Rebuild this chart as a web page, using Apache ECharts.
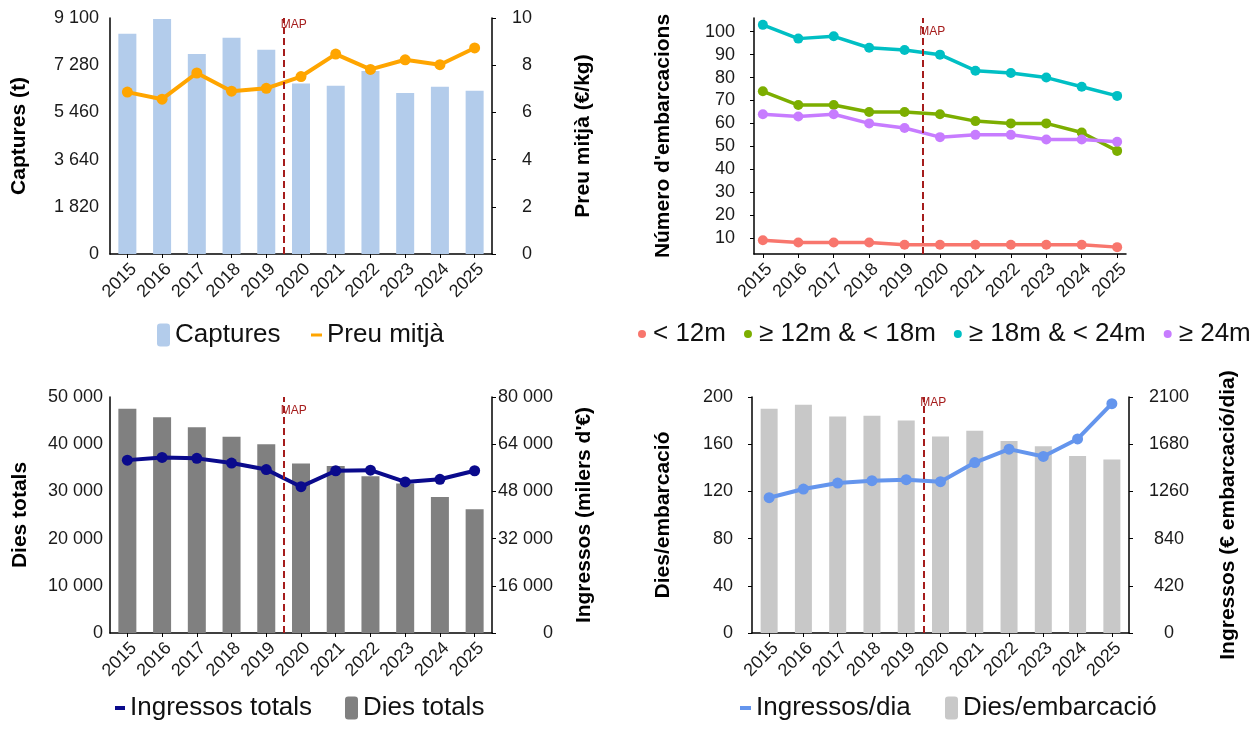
<!DOCTYPE html>
<html><head><meta charset="utf-8">
<script src="https://cdn.jsdelivr.net/npm/echarts@6/dist/echarts.min.js"></script>
<style>html,body{margin:0;padding:0;background:#fff}#c{width:1259px;height:731px}</style>
</head><body><div id="c"></div>
<script>
// ---------- data ----------
const years = [2015, 2016, 2017, 2018, 2019, 2020, 2021, 2022, 2023, 2024, 2025];
const mapYear = 2019.5;

const captures = [8495, 9061, 7710, 8341, 7877, 6577, 6487, 7053, 6204, 6449, 6294];
const preuMitja = [6.86, 6.56, 7.67, 6.90, 7.02, 7.52, 8.47, 7.82, 8.23, 8.02, 8.73];

const vessLt12 = [9, 8, 8, 8, 7, 7, 7, 7, 7, 7, 6];
const vess12to18 = [74, 68, 68, 65, 65, 64, 61, 60, 60, 56, 48];
const vess18to24 = [103, 97, 98, 93, 92, 90, 83, 82, 80, 76, 72];
const vessGe24 = [64, 63, 64, 60, 58, 54, 55, 55, 53, 53, 52];

const diesTotals = [47500, 45700, 43600, 41600, 40000, 35900, 35400, 33200, 31700, 28800, 26200];
const ingressosTotals = [58600, 59500, 59200, 57600, 55400, 49600, 55000, 55200, 51200, 52100, 55000];

const diesEmbarcacio = [190, 193.5, 183.4, 184.2, 180, 166.5, 171.5, 162.8, 158.3, 149.9, 147];
const ingressosDia = [1204, 1281, 1334, 1355, 1364, 1346, 1517, 1636, 1571, 1727, 2041];

const capturesTicks = [0, 1820, 3640, 5460, 7280, 9100];
const preuTicks = [0, 2, 4, 6, 8, 10];
const vesselTicks = [10, 20, 30, 40, 50, 60, 70, 80, 90, 100];
const vesselRange = [3, 106];
const diesTotTicks = [0, 10000, 20000, 30000, 40000, 50000];
const ingTotTicks = [0, 16000, 32000, 48000, 64000, 80000];
const diesEmbTicks = [0, 40, 80, 120, 160, 200];
const ingDiaTicks = [0, 420, 840, 1260, 1680, 2100];

const sizeClasses = ['< 12m', '≥ 12m & < 18m', '≥ 18m & < 24m', '≥ 24m'];

// ---------- helpers ----------
const FONT = "'Liberation Sans', Arial, sans-serif";
const MAPC = '#A51C1C';
const pair = arr => years.map((y, i) => [y, arr[i]]);
const sp = v => String(v).replace(/\B(?=(\d{3})+(?!\d))/g, ' ');
const last = a => a[a.length - 1];

function xAx(grid, min, max) {
  return {
    type: 'value', gridIndex: grid, min: min, max: max,
    axisLine: { show: true, onZero: false, lineStyle: { color: '#000', width: 1.5 } },
    axisTick: { show: true, length: 4, customValues: years, lineStyle: { color: '#000' } },
    axisLabel: { customValues: years, rotate: 45, fontSize: 18, fontFamily: FONT, color: '#1a1a1a', margin: 6,
      verticalAlign: 'top', formatter: v => String(v) },
    splitLine: { show: false }
  };
}
function yAx(grid, ticks, opts) {
  return {
    type: 'value', gridIndex: grid, min: opts.min !== undefined ? opts.min : ticks[0], max: opts.max !== undefined ? opts.max : last(ticks),
    position: opts.pos,
    name: opts.name, nameLocation: 'middle', nameGap: opts.gap,
    nameTextStyle: { fontSize: 21, fontWeight: 'bold', fontFamily: FONT, color: '#000' },
    axisLine: { show: true, onZero: false, lineStyle: { color: '#000', width: 1.5 } },
    axisTick: { show: opts.tick, length: 4, customValues: ticks, lineStyle: { color: '#000' } },
    axisLabel: { customValues: ticks, fontSize: 18, fontFamily: FONT, color: '#1a1a1a', margin: opts.margin, align: opts.align, formatter: opts.fmt || (v => String(v)) },
    splitLine: { show: false }
  };
}
function mapMarks(yTop, dy) {
  return {
    markLine: { silent: true, symbol: 'none', label: { show: false },
      lineStyle: { color: MAPC, type: [7, 4], width: 2 }, data: [{ xAxis: mapYear }] },
    markPoint: { silent: true, data: [{ coord: [mapYear, yTop], symbol: 'circle', symbolSize: 0,
      label: { show: true, formatter: 'MAP', position: 'right', distance: 0, offset: [-3, dy], color: MAPC, fontSize: 12, fontFamily: FONT } }] }
  };
}
function lineSeries(name, data, xi, yi, color, size, width, extra) {
  return Object.assign({
    type: 'line', name: name, xAxisIndex: xi, yAxisIndex: yi, data: pair(data),
    symbol: 'circle', symbolSize: size, showSymbol: true,
    lineStyle: { color: color, width: width }, itemStyle: { color: color }, z: 3
  }, extra || {});
}

const chart = echarts.init(document.getElementById('c'), null, { renderer: 'canvas' });
const legendText = { fontSize: 26, fontFamily: FONT, color: '#111' };

chart.setOption({
  animation: false,
  backgroundColor: '#fff',
  textStyle: { fontFamily: FONT },
  grid: [
    { left: 110, top: 18, width: 382, height: 236 },
    { left: 754, top: 18, width: 372, height: 236 },
    { left: 110, top: 397, width: 382, height: 236 },
    { left: 752, top: 397, width: 377, height: 236 }
  ],
  xAxis: [
    xAx(0, 2014.5, 2025.5),
    xAx(1, 2014.75, 2025.25),
    xAx(2, 2014.5, 2025.5),
    xAx(3, 2014.5, 2025.5)
  ],
  yAxis: [
    yAx(0, capturesTicks, { pos: 'left', name: 'Captures (t)', gap: 80, tick: false, margin: 11, fmt: sp }),
    yAx(0, preuTicks, { pos: 'right', name: 'Preu mitjà (€/kg)', gap: 81, tick: true, margin: 40, align: 'right' }),
    yAx(1, vesselTicks, { pos: 'left', name: "Número d'embarcacions", gap: 80, tick: true, margin: 19, min: vesselRange[0], max: vesselRange[1] }),
    yAx(2, diesTotTicks, { pos: 'left', name: 'Dies totals', gap: 79, tick: false, margin: 7, fmt: sp }),
    yAx(2, ingTotTicks, { pos: 'right', name: "Ingressos (milers d'€)", gap: 82, tick: true, margin: 61, align: 'right', fmt: sp }),
    yAx(3, diesEmbTicks, { pos: 'left', name: 'Dies/embarcació', gap: 78, tick: true, margin: 19 }),
    yAx(3, ingDiaTicks, { pos: 'right', name: 'Ingressos (€ embarcació/dia)', gap: 89, tick: true, margin: 40, align: 'center' })
  ],
  legend: [
    { left: 157, top: 322, padding: 0, itemWidth: 13, itemHeight: 23, textStyle: legendText, data: ['Captures'] },
    { left: 311, top: 322, padding: 0, itemWidth: 11, itemHeight: 3, textStyle: legendText, data: [{ name: 'Preu mitjà', icon: 'rect' }] },
    { left: 638, top: 321, padding: 0, itemWidth: 12, itemHeight: 8, itemGap: 18, textStyle: legendText,
      data: sizeClasses.map(n => ({ name: n, icon: 'circle' })) },
    { left: 115, top: 695, padding: 0, itemWidth: 10, itemHeight: 4, textStyle: legendText, data: [{ name: 'Ingressos totals', icon: 'rect' }] },
    { left: 345, top: 695, padding: 0, itemWidth: 13, itemHeight: 23, textStyle: legendText, data: ['Dies totals'] },
    { left: 740, top: 695, padding: 0, itemWidth: 11, itemHeight: 4, textStyle: legendText, data: [{ name: 'Ingressos/dia', icon: 'rect' }] },
    { left: 945, top: 695, padding: 0, itemWidth: 13, itemHeight: 23, textStyle: legendText, data: ['Dies/embarcació'] }
  ],
  series: [
    { type: 'bar', name: 'Captures', xAxisIndex: 0, yAxisIndex: 0, data: pair(captures), barWidth: 18, itemStyle: { color: '#B3CCEB' } },
    lineSeries('Preu mitjà', preuMitja, 0, 1, '#FFA500', 11, 4, mapMarks(last(preuTicks), 7)),

    lineSeries(sizeClasses[0], vessLt12, 1, 2, '#F8766D', 10, 3.5),
    lineSeries(sizeClasses[1], vess12to18, 1, 2, '#7CAE00', 10, 3.5),
    lineSeries(sizeClasses[2], vess18to24, 1, 2, '#00BFC4', 10, 3.5, mapMarks(vesselRange[1], 14)),
    lineSeries(sizeClasses[3], vessGe24, 1, 2, '#C77CFF', 10, 3.5),

    { type: 'bar', name: 'Dies totals', xAxisIndex: 2, yAxisIndex: 3, data: pair(diesTotals), barWidth: 18, itemStyle: { color: '#808080' } },
    lineSeries('Ingressos totals', ingressosTotals, 2, 4, '#0A0A8C', 11, 4, mapMarks(last(ingTotTicks), 14)),

    { type: 'bar', name: 'Dies/embarcació', xAxisIndex: 3, yAxisIndex: 5, data: pair(diesEmbarcacio), barWidth: 17, itemStyle: { color: '#C8C8C8' } },
    lineSeries('Ingressos/dia', ingressosDia, 3, 6, '#6495ED', 11, 4, mapMarks(last(ingDiaTicks), 6))
  ]
});
</script>
</body></html>
